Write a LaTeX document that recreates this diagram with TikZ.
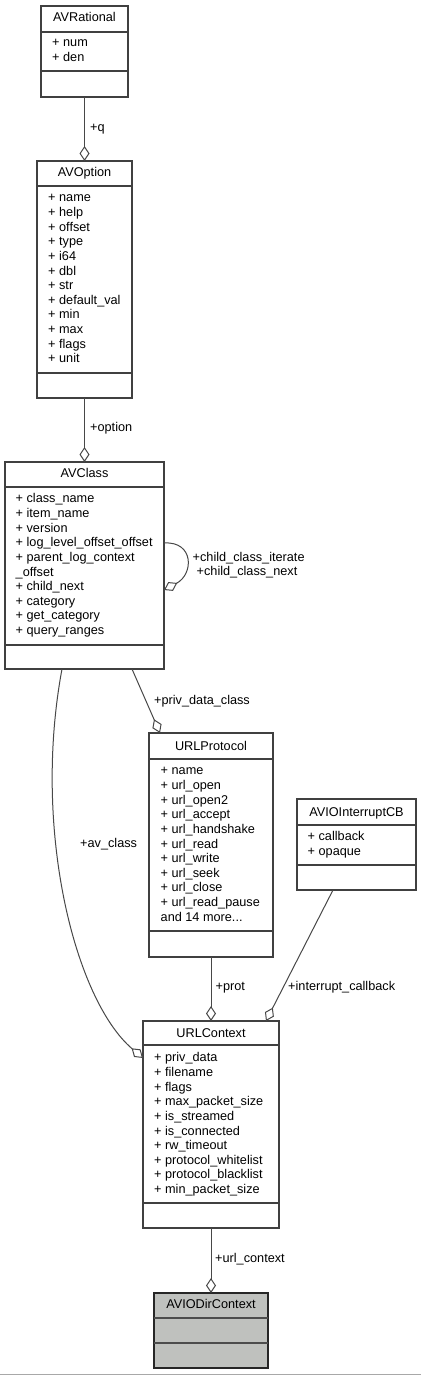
\documentclass[tikz,border=0pt]{standalone}
\usepackage{fontspec}
\setmainfont{Liberation Sans}
\usetikzlibrary{arrows.meta,calc}
\definecolor{boxline}{HTML}{404040}
\definecolor{edgecol}{HTML}{484848}
\definecolor{grayfill}{HTML}{BFC1BE}
\definecolor{bottomline}{HTML}{A8A8A8}
\newcommand\umlfont{\fontsize{12.7}{14.6}\selectfont}
\newcommand\mydots{...}
\newcommand\members[4]{%
  \foreach \t [count=\i from 0] in {#4} {
    \node[member] (#3-\i) at (#1, #2+14.65*\i) {\t};
  }}
\tikzset{
  classbox/.style={draw=boxline, line width=1.6pt, inner sep=0pt, outer sep=0pt},
  sepline/.style={draw=boxline, line width=1.6pt},
  member/.style={anchor=west, inner sep=0pt, text height=9pt, text depth=2.5pt, font=\umlfont},
  ctitle/.style={anchor=center, inner sep=0pt, text height=9pt, text depth=2.5pt, font=\umlfont},
  lbl/.style={anchor=west, inner sep=0pt, text height=9pt, text depth=2.5pt, font=\umlfont},
  assoc/.style={draw=edgecol, line width=1pt, -{Diamond[length=15pt,width=10pt,fill=white]}},
}
\begin{document}
\begin{tikzpicture}[x=1pt, y=-1pt]
\fill[white] (0,0) rectangle (421,1375);
\useasboundingbox (0,0) rectangle (421,1375);

% AVRational
\node[classbox, minimum width=87pt, minimum height=91pt] (avrational) at (84.5,51.5) {};
\draw[sepline] (41,32) -- (128,32);
\draw[sepline] (41,71) -- (128,71);
\node[ctitle] (avrational-t) at (84.5,18) {AVRational};
\members{52}{43.5}{avr}{+ num,+ den}

% AVOption
\node[classbox, minimum width=95pt, minimum height=237pt] (avoption) at (84.5,279.5) {};
\draw[sepline] (37,186) -- (132,186);
\draw[sepline] (37,373) -- (132,373);
\node[ctitle] (avoption-t) at (84.5,173) {AVOption};
\members{48}{198.5}{avo}{+ name,+ help,+ offset,+ type,+ i64,+ dbl,+ str,+ default\_val,+ min,+ max,+ flags,+ unit}

% AVClass
\node[classbox, minimum width=159pt, minimum height=207pt] (avclass) at (84.5,565.5) {};
\draw[sepline] (5,487) -- (164,487);
\draw[sepline] (5,645) -- (164,645);
\node[ctitle] (avclass-t) at (84.5,474) {AVClass};
\members{15.5}{499.5}{avc}{+ class\_name,+ item\_name,+ version,+ log\_level\_offset\_offset,+ parent\_log\_context,\_offset,+ child\_next,+ category,+ get\_category,+ query\_ranges}

% URLProtocol
\node[classbox, minimum width=124pt, minimum height=224pt] (urlprotocol) at (211,845) {};
\draw[sepline] (149,759) -- (273,759);
\draw[sepline] (149,931) -- (273,931);
\node[ctitle] (urlprotocol-t) at (211,747) {URLProtocol};
\members{160.5}{771.5}{urp}{+ name,+ url\_open,+ url\_open2,+ url\_accept,+ url\_handshake,+ url\_read,+ url\_write,+ url\_seek,+ url\_close,+ url\_read\_pause,and 14 more\mydots}

% AVIOInterruptCB
\node[classbox, minimum width=119pt, minimum height=91pt] (avio) at (356.5,844.5) {};
\draw[sepline] (297,825) -- (416,825);
\draw[sepline] (297,865) -- (416,865);
\node[ctitle] (avio-t) at (356.5,813) {AVIOInterruptCB};
\members{307.5}{837.5}{avi}{+ callback,+ opaque}

% URLContext
\node[classbox, minimum width=136pt, minimum height=207pt] (urlcontext) at (211,1124.5) {};
\draw[sepline] (143,1045) -- (279,1045);
\draw[sepline] (143,1203) -- (279,1203);
\node[ctitle] (urlcontext-t) at (211,1034) {URLContext};
\members{154}{1058.5}{urc}{+ priv\_data,+ filename,+ flags,+ max\_packet\_size,+ is\_streamed,+ is\_connected,+ rw\_timeout,+ protocol\_whitelist,+ protocol\_blacklist,+ min\_packet\_size}

% AVIODirContext
\node[classbox, draw=black!85, fill=grayfill, minimum width=114pt, minimum height=75pt] (aviodir) at (211,1330.5) {};
\draw[sepline, draw=black!70] (154,1318) -- (268,1318);
\draw[sepline, draw=black!70] (154,1343) -- (268,1343);
\node[ctitle] (aviodir-t) at (211,1305.5) {AVIODirContext};

% connectors
\draw[assoc] (avrational.south) -- (avoption.north);
\node[lbl] (lq) at (90,128) {+q};

\draw[assoc] (avoption.south) -- (avclass.north);
\node[lbl] (loption) at (90,428) {+option};

\draw[assoc] ([yshift=22.5pt]avclass.east) .. controls (194,541) and (194,574) .. ([yshift=-24.5pt]avclass.east);
\node[lbl] (lcci) at (192.5,558) {+child\_class\_iterate};
\node[lbl] (lccn) at (196.5,572.5) {+child\_class\_next};

\draw[assoc] ([xshift=47.5pt]avclass.south) -- ([xshift=-51pt]urlprotocol.north);
\node[lbl] (lpdc) at (154,701) {+priv\_data\_class};

\draw[assoc] ([xshift=-22.5pt]avclass.south) .. controls (32,830) and (75,1000) .. ([yshift=66.5pt]urlcontext.west);
\node[lbl] (lavc) at (80,844) {+av\_class};

\draw[assoc] (urlprotocol.south) -- (urlcontext.north);
\node[lbl] (lprot) at (215.5,987) {+prot};

\draw[assoc] ([xshift=-23.5pt]avio.south) -- ([xshift=55pt]urlcontext.north);
\node[lbl] (lic) at (288,987) {+interrupt\_callback};

\draw[assoc] (urlcontext.south) -- (aviodir.north);
\node[lbl] (luc) at (215,1259.5) {+url\_context};

\draw[bottomline, line width=1pt] (0,1374.5) -- (421,1374.5);
\end{tikzpicture}
\end{document}
